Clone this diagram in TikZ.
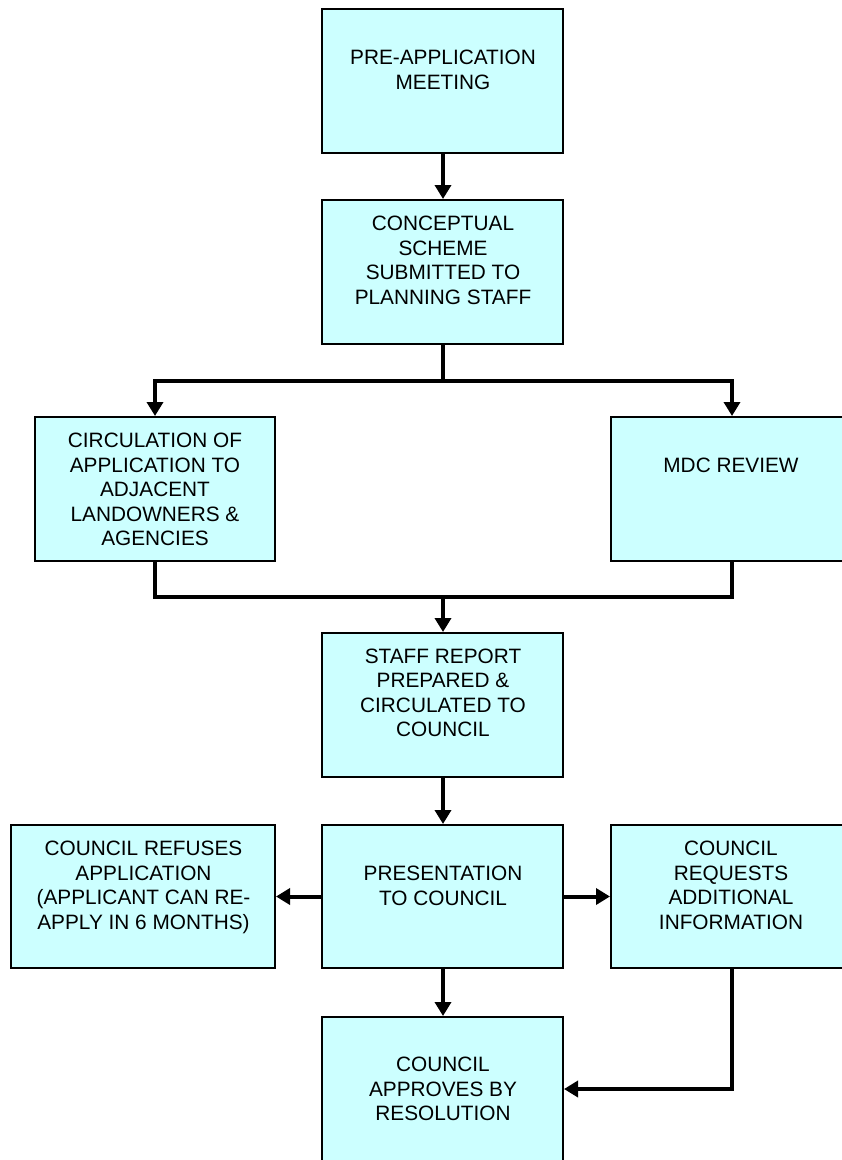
\documentclass[tikz,border=0pt]{standalone}
\usepackage{fontspec}
\setmainfont{Liberation Sans}
\usetikzlibrary{arrows.meta}
\definecolor{boxfill}{HTML}{CCFFFF}
\tikzset{
  stepbox/.style={draw=black, line width=2pt, fill=boxfill, inner sep=0pt, rectangle},
  boxtext/.style={align=center, inner sep=0pt, anchor=north, font=\fontsize{20.8}{24.5}\selectfont},
  conn/.style={draw=black, line width=4pt},
  arr/.style={conn, -{Triangle[width=16pt,length=14pt]}}
}
\begin{document}
\begin{tikzpicture}[x=1pt, y=-1pt]
\useasboundingbox (0,0) rectangle (842,1160);
% boxes
\node[stepbox, minimum width=241pt, minimum height=144pt] (b1) at (442.5,81) {};
\node[stepbox, minimum width=241pt, minimum height=144pt] (b2) at (442.5,272) {};
\node[stepbox, minimum width=240pt, minimum height=144pt] (b3) at (155,489) {};
\node[stepbox, minimum width=242pt, minimum height=144pt] (b4) at (732,489) {};
\node[stepbox, minimum width=241pt, minimum height=144pt] (b5) at (442.5,705) {};
\node[stepbox, minimum width=241pt, minimum height=143pt] (b6) at (442.5,896.5) {};
\node[stepbox, minimum width=264pt, minimum height=143pt] (b7) at (143,896.5) {};
\node[stepbox, minimum width=242pt, minimum height=143pt] (b8) at (732,896.5) {};
\node[stepbox, minimum width=241pt, minimum height=144pt] (b9) at (442.5,1089) {};
% texts
\node[boxtext] (t1) at (443,47.3) {\strut PRE-APPLICATION\\MEETING};
\node[boxtext] (t2) at (443,213.3) {\strut CONCEPTUAL\\SCHEME\\SUBMITTED TO\\PLANNING STAFF};
\node[boxtext] (t3) at (155,430.3) {\strut CIRCULATION OF\\APPLICATION TO\\ADJACENT\\LANDOWNERS \&\\AGENCIES};
\node[boxtext] (t4) at (731,455.3) {\strut MDC REVIEW};
\node[boxtext] (t5) at (443,645.8) {\strut STAFF REPORT\\PREPARED \&\\CIRCULATED TO\\COUNCIL};
\node[boxtext] (t6) at (443,863.3) {\strut PRESENTATION\\TO COUNCIL};
\node[boxtext] (t7) at (143.5,838.3) {\strut COUNCIL REFUSES\\APPLICATION\\(APPLICANT CAN RE-\\APPLY IN 6 MONTHS)};
\node[boxtext] (t8) at (731,838.3) {\strut COUNCIL\\REQUESTS\\ADDITIONAL\\INFORMATION};
\node[boxtext] (t9) at (443,1054.5) {\strut COUNCIL\\APPROVES BY\\RESOLUTION};
% junction points
\coordinate (split) at (443,381);
\coordinate (merge) at (443,597);
% connectors
\draw[arr] (b1.south -| split) -- (b2.north -| split);
\draw[conn] (b2.south -| split) -- (split);
\draw[arr] (split) -| (b3.north);
\draw[arr] (split) -| (b4.north);
\draw[conn] (b3.south) |- (merge);
\draw[conn] (b4.south) |- (merge);
\draw[arr] (merge) -- (b5.north -| merge);
\draw[arr] (b5.south -| merge) -- (b6.north -| merge);
\draw[arr] (b6.west) -- (b7.east);
\draw[arr] (b6.east) -- (b8.east -| b8.west);
\draw[arr] (b6.south -| merge) -- (b9.north -| merge);
\draw[arr] (b8.south) |- (b9.east);
\end{tikzpicture}
\end{document}
